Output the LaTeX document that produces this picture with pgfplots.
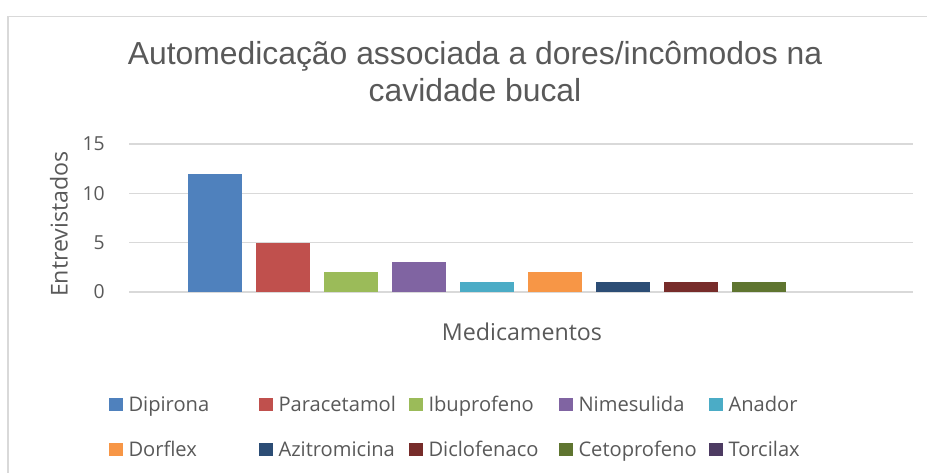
\documentclass[border=0pt]{standalone}
\usepackage{fontspec}
\setmainfont{Open Sans}
\newfontfamily\titlefont{Liberation Sans}
\usepackage{pgfplots}
\pgfplotsset{compat=1.18}

\definecolor{txt}{HTML}{595959}
\definecolor{grd}{HTML}{D9D9D9}
\definecolor{cDip}{HTML}{4F81BD}
\definecolor{cPar}{HTML}{C0504D}
\definecolor{cIbu}{HTML}{9BBB59}
\definecolor{cNim}{HTML}{8064A2}
\definecolor{cAna}{HTML}{4BACC6}
\definecolor{cDor}{HTML}{F79646}
\definecolor{cAzi}{HTML}{2C4D75}
\definecolor{cDic}{HTML}{772C2A}
\definecolor{cCet}{HTML}{5F7530}
\definecolor{cTor}{HTML}{4D3B62}

% one bar per series, legend square sits on the baseline
\pgfplotsset{
  medbar/.style={ybar, bar width=0.794, bar shift=0pt, draw=none, fill=#1,
    legend image code/.code={\fill[#1] (0pt,0pt) rectangle (10.125pt,10.125pt);}},
}
\newcommand{\legtxt}[1]{\hspace{4.5pt}\makebox[97.875pt][l]{#1}}

\begin{document}
\begin{tikzpicture}
\useasboundingbox (0,0) rectangle (695.25pt,354.75pt);
\begin{scope}
  \clip (0,0) rectangle (695.25pt,354.75pt);
  \draw[grd, line width=1.3pt] (6pt,-20pt) rectangle (720pt,342.375pt);
\end{scope}

\node[anchor=base, text=txt, font=\titlefont\fontsize{23.9}{28}\selectfont]
  at (356.25pt,306pt) {Automedicação associada a dores/incômodos na};
\node[anchor=base, text=txt, font=\titlefont\fontsize{23.9}{28}\selectfont]
  at (356.25pt,278.25pt) {cavidade bucal};

\node[rotate=90, text=txt, font=\fontsize{17.4}{20}\selectfont]
  at (44.25pt,186.75pt) {Entrevistados};
\node[anchor=base, text=txt, font=\fontsize{17.4}{20}\selectfont]
  at (391.5pt,99.2pt) {Medicamentos};

\begin{axis}[
  at={(96.75pt,135.75pt)}, anchor=south west,
  scale only axis, width=588pt, height=111pt,
  xmin=-1.265, xmax=10.265, ymin=0, ymax=15,
  ytick={0,5,10,15}, xtick=\empty,
  axis line style={draw=none},
  major tick length=0pt,
  ymajorgrids, grid style={grd, line width=1.2pt},
  yticklabel style={font=\fontsize{14.5}{16}\selectfont, text=txt, anchor=east, inner sep=0pt, xshift=-18pt},
  /pgf/number format/assume math mode=true,
  legend columns=5,
  legend style={at={(-0.0255,-0.705)}, anchor=north west, draw=none,
    inner sep=0pt, outer sep=0pt, column sep=0pt, row sep=19.25pt,
    font=\fontsize{15.1}{18}\selectfont, text=txt,
    nodes={inner sep=0pt, text height=11pt, text depth=3.5pt, anchor=base west}},
]
\addplot[medbar=cDip] coordinates {(0,12)};
\addlegendentry{\legtxt{Dipirona}}
\addplot[medbar=cPar] coordinates {(1,5)};
\addlegendentry{\legtxt{Paracetamol}}
\addplot[medbar=cIbu] coordinates {(2,2)};
\addlegendentry{\legtxt{Ibuprofeno}}
\addplot[medbar=cNim] coordinates {(3,3)};
\addlegendentry{\legtxt{Nimesulida}}
\addplot[medbar=cAna] coordinates {(4,1)};
\addlegendentry{\legtxt{Anador}}
\addplot[medbar=cDor] coordinates {(5,2)};
\addlegendentry{\legtxt{Dorflex}}
\addplot[medbar=cAzi] coordinates {(6,1)};
\addlegendentry{\legtxt{Azitromicina}}
\addplot[medbar=cDic] coordinates {(7,1)};
\addlegendentry{\legtxt{Diclofenaco}}
\addplot[medbar=cCet] coordinates {(8,1)};
\addlegendentry{\legtxt{Cetoprofeno}}
% zero value: nothing visible above the baseline
\addplot[medbar=cTor, fill=none] coordinates {(9,0)};
\addlegendentry{\legtxt{Torcilax}}
\end{axis}
\end{tikzpicture}
\end{document}
